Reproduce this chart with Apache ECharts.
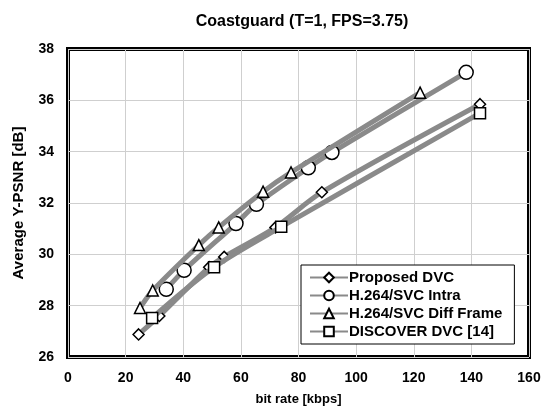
<!DOCTYPE html>
<html><head><meta charset="utf-8">
<script src="https://cdn.jsdelivr.net/npm/echarts@6/dist/echarts.min.js"></script>
<style>html,body{margin:0;padding:0;background:#fff}#c{width:547px;height:419px}</style>
</head><body><div id="c"></div>
<script>
const seriesNames = ['Proposed DVC','H.264/SVC Intra','H.264/SVC Diff Frame','DISCOVER DVC [14]'];
const proposedDVC = [[24.5,26.88],[31.7,27.6],[49,29.5],[54.2,29.9],[72,31.05],[88.1,32.42],[143,35.85]];
const svcIntra = [[34.1,28.64],[40.3,29.38],[58.3,31.2],[65.4,31.95],[83.4,33.37],[91.6,33.97],[138.2,37.09]];
const svcDiff = [[25,27.91],[29.4,28.59],[45.4,30.36],[52.3,31.05],[67.7,32.44],[77.4,33.19],[122.2,36.3]];
const discoverDVC = [[29.2,27.52],[50.7,29.5],[74,31.07],[143,35.5]];
const symbols = ['diamond','circle','triangle','rect'];
const sizes = [11,14,11,11];
const allData = [proposedDVC, svcIntra, svcDiff, discoverDVC];
const font = '"Liberation Sans Narrow", "Liberation Sans", Arial, sans-serif';
const chart = echarts.init(document.getElementById('c'));
chart.setOption({
  animation:false,
  backgroundColor:'#fff',
  title:{text:'Coastguard (T=1, FPS=3.75)',left:297,top:9,textAlign:'center',
    textStyle:{fontFamily:font,fontWeight:'bold',fontSize:16,color:'#000'}},
  grid:{left:68,top:49,right:18,bottom:62,show:true,borderColor:'#000',borderWidth:4,backgroundColor:'#fff'},
  xAxis:{type:'value',min:0,max:160,interval:20,name:'bit rate [kbps]',nameLocation:'middle',nameGap:36,
    nameTextStyle:{fontFamily:font,fontWeight:'bold',fontSize:13,color:'#000'},
    axisLine:{show:false},axisTick:{show:false},
    axisLabel:{fontFamily:font,fontWeight:'bold',fontSize:14,color:'#000',margin:14},
    splitLine:{lineStyle:{color:'#cfcfcf',width:1}}},
  yAxis:{type:'value',min:26,max:38,interval:2,name:'Average Y-PSNR [dB]',nameLocation:'middle',nameGap:42,
    nameTextStyle:{fontFamily:font,fontWeight:'bold',fontSize:15,color:'#000'},
    axisLine:{show:false},axisTick:{show:false},
    axisLabel:{fontFamily:font,fontWeight:'bold',fontSize:14,color:'#000',margin:14},
    splitLine:{lineStyle:{color:'#cfcfcf',width:1}}},
  legend:{orient:'vertical',left:301,top:265,itemWidth:38,itemHeight:12,itemGap:3,
    backgroundColor:'#fff',borderColor:'#000',borderWidth:1,padding:[5,12,5,8],
    textStyle:{fontFamily:font,fontWeight:'bold',fontSize:15,color:'#000',padding:[0,0,0,-4]},
    data:seriesNames},
  series: seriesNames.map((n,i)=>({
    name:n,type:'line',data:allData[i],smooth:0.3,symbol:symbols[i],symbolSize:sizes[i],
    lineStyle:{color:'#8a8a8a',width:5},
    itemStyle:{color:'#fff',borderColor:'#000',borderWidth:1.5},
    z:2+i
  }))
});
</script></body></html>
